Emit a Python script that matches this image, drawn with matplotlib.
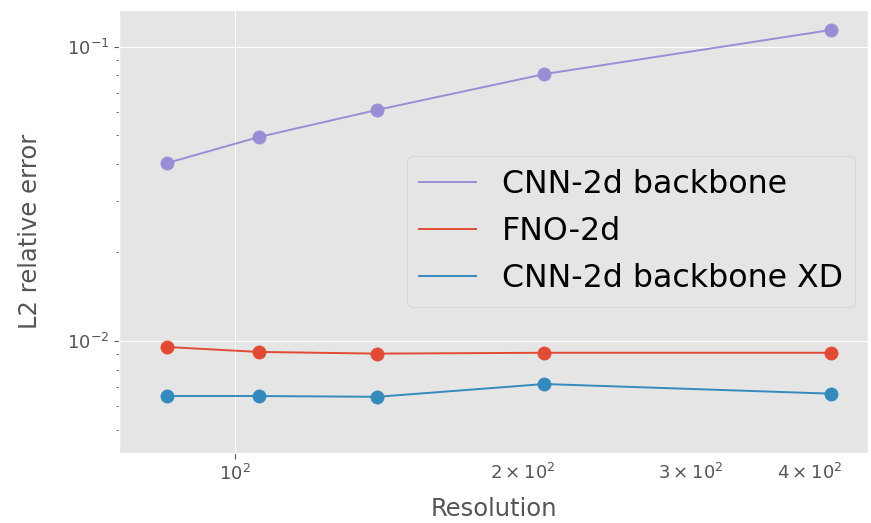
import matplotlib
matplotlib.use("Agg")
import matplotlib.pyplot as plt
import numpy as np

plt.style.use('ggplot')

resolution = [85, 106, 141, 211, 421]
cnn_backbone = [0.0403, 0.0494, 0.0611, 0.0809, 0.1143]
fno_2d = [0.00954, 0.00918, 0.00906, 0.00912, 0.00912]
cnn_backbone_xd = [0.00650, 0.00650, 0.00646, 0.00714, 0.00662]

series = [
    ('CNN-2d backbone', cnn_backbone, '#988ED5'),
    ('FNO-2d', fno_2d, '#E24A33'),
    ('CNN-2d backbone XD', cnn_backbone_xd, '#348ABD'),
]

fig = plt.figure(figsize=(8.71, 5.23), dpi=100)
ax = fig.add_axes([119 / 871, 1 - 453 / 523, 749 / 871, 443 / 523])

for name, vals, col in series:
    ax.plot(resolution, vals, color=col, lw=1.4, label=name)
    ax.scatter(resolution, vals, color=col, s=90, zorder=3)

ax.set_xscale('log')
ax.set_yscale('log')
ax.set_xlim(75.7, 460)
ax.set_ylim(0.00416, 0.1336)
ax.tick_params(axis='both', which='both', labelsize=13)
# hide the minor x tick marks but keep their labels in line
ax.tick_params(axis='x', which='minor', length=4, color=(0, 0, 0, 0))
ax.tick_params(axis='x', which='major', length=4)
ax.set_xlabel('Resolution', fontsize=17.5, labelpad=10)
ax.set_ylabel('L2 relative error', fontsize=17.5, labelpad=18)
leg = ax.legend(loc='center right', fontsize=22.8, handlelength=1.8,
                borderaxespad=0.4)
for t in leg.get_texts():
    t.set_color('black')

fig.savefig('out.png', dpi=100)
